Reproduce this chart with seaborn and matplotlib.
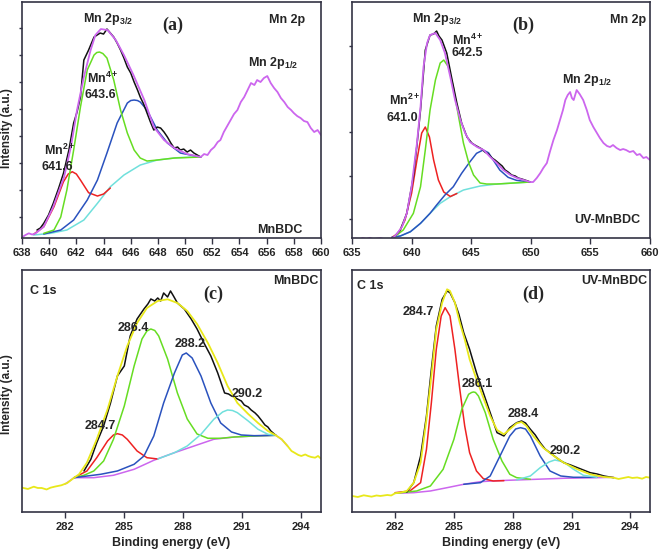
import matplotlib
matplotlib.use("Agg")
import matplotlib.pyplot as plt
import seaborn as sns
from matplotlib.ticker import MultipleLocator

# Panel (a): MnBDC, Mn 2p (binding energy in eV, intensity in a.u.)
a_env_e = [638.0, 638.25, 638.5, 638.75, 639.0, 639.6, 640.3, 641.1, 641.6, 642.05,
           642.55, 643.05, 643.4, 643.8, 644.3, 644.9, 645.5, 646.2, 647.0, 647.7,
           648.45, 649.2, 650.15, 651.15, 651.4, 651.65, 651.9, 652.15, 652.4, 652.6,
           652.85, 653.1, 653.35, 653.6, 653.85, 654.1, 654.35, 654.6, 654.85, 655.1,
           655.3, 655.55, 655.8, 656.05, 656.3, 656.55, 656.8, 657.05, 657.3, 657.55,
           657.8, 658.0, 658.25, 658.5, 658.75, 659.0, 659.25, 659.5, 659.75, 660.0]
a_env_i = [2.7, 5, 6.7, 5.5, 6.7, 13.3, 33.3, 63.3, 93.3, 130,
           163, 190, 205, 211, 210, 200, 185, 165, 140, 113,
           100, 92, 86, 83, 86, 85, 90, 93, 98, 100,
           108, 114, 120, 126, 130, 138, 143, 150, 157, 155,
           160, 158, 162, 164, 157, 152, 148, 142, 138, 133,
           130, 127, 124, 122, 119, 118, 112, 108, 110, 105]
a_raw_e = [639.1, 639.35, 639.6, 639.95, 640.3, 640.7, 641.05, 641.45, 641.8, 642.05,
           642.3, 642.55, 642.9, 643.3, 643.75, 644.0, 644.25, 644.5, 644.75, 645.0,
           645.25, 645.5, 645.75, 646.0, 646.25, 646.5, 646.7, 646.95, 647.2, 647.45,
           647.7, 647.95, 648.2, 648.45, 648.7, 648.95, 649.2, 649.45, 649.65, 649.9,
           650.15, 650.4, 650.65, 650.9, 651.15]
a_raw_i = [10, 12, 16.7, 25, 36.7, 52, 66.7, 90, 117, 128,
           143, 180, 190, 203, 207, 206, 211, 207, 203, 197,
           190, 182, 173, 167, 158, 150, 143, 136, 127, 118,
           110, 113, 112, 108, 103, 97, 92, 93, 90, 91,
           88, 90, 87, 85, 83]
a_g_e = [639.6, 640.35, 640.85, 641.3, 641.8, 642.3, 642.8, 643.3, 643.5, 643.7,
         643.95, 644.25, 644.75, 645.25, 645.75, 646.25, 646.7, 647.2, 647.95, 649.2, 651.15]
a_g_i = [6.7, 10, 23, 50, 90, 133, 170, 185, 187.5, 188,
         186.5, 182, 160, 130, 107, 90, 82, 79, 80, 82, 83]
a_r_e = [638.85, 639.6, 640.35, 641.05, 641.4, 641.7, 642.0, 642.3, 642.9, 643.55, 644.0, 644.5]
a_r_i = [5.7, 13.3, 33.3, 58.3, 66, 68.3, 66, 60, 47.3, 44, 46, 52]
a_b_e = [639.6, 640.85, 641.8, 642.8, 643.55, 644.25, 645.0, 645.75, 646.0, 646.25,
         646.5, 646.7, 647.2, 647.95, 648.7, 649.65, 651.15]
a_b_i = [6, 10, 20, 40, 60, 87, 117, 137, 139.5, 140,
         139.5, 138, 130, 110, 97, 87, 83]
a_c_e = [638.85, 640.1, 641.3, 642.55, 643.55, 644.5, 645.5, 646.7, 647.95, 649.4, 651.15]
a_c_i = [5, 6.7, 10, 20, 36.7, 53.3, 65, 75, 80, 82.3, 83.3]

# Panel (b): UV-MnBDC, Mn 2p
b_env_e = [635.0, 635.3, 635.6, 635.9, 636.2, 636.5, 636.8, 637.1, 637.4, 637.7,
           638.0, 638.35, 638.5, 638.8, 639.2, 639.6, 640.0, 640.45, 640.75, 641.0,
           641.3, 641.55, 642.0, 642.4, 642.8, 643.25, 643.65, 644.1, 644.5, 644.9,
           645.5, 646.05, 646.6, 647.15, 647.7, 648.3, 648.85, 649.4, 649.95, 650.2,
           650.5, 650.8, 651.05, 651.35, 651.6, 651.9, 652.2, 652.45, 652.7, 652.9,
           653.1, 653.3, 653.45, 653.6, 653.85, 654.1, 654.4, 654.7, 654.95, 655.25,
           655.55, 655.8, 656.1, 656.4, 656.65, 656.9, 657.2, 657.5, 657.75, 658.0,
           658.3, 658.6, 658.9, 659.15, 659.45, 659.7, 660.0]
b_env_i = [0.7, 1.5, 0.5, 2.0, 1.0, 2.2, 0.8, 1.5, 2.0, 0.7,
           1.2, 1.0, 2.7, 6.7, 13.3, 26.7, 53.3, 96.7, 133, 173,
           197, 205, 207, 200, 187, 163, 140, 120, 107, 98,
           93, 90, 83, 77, 70, 65, 62, 60, 58, 58,
           62, 67, 72, 77, 88, 100, 110, 120, 130, 140,
           145, 148, 142, 140, 150, 146, 140, 130, 120, 113,
           107, 102, 97, 94, 93, 95, 92, 90, 91, 90,
           88, 89, 85, 86, 82, 83, 80]
b_raw_e = [638.5, 639.05, 639.6, 640.15, 640.45, 640.75, 641.15, 641.55, 641.85, 642.1,
           642.3, 642.55, 642.95, 643.4, 643.8, 644.2, 644.65, 645.05, 645.3, 645.6,
           645.9, 646.15, 646.45, 646.75, 647.0, 647.3, 647.6, 647.85, 648.1, 648.4,
           648.7, 648.95, 649.25, 649.5, 649.75, 649.95]
b_raw_i = [2.7, 10, 26.7, 63.3, 95, 130, 190, 205, 206, 209,
           204, 200, 187, 160, 137, 117, 103, 97, 95, 93,
           91, 88, 86, 82, 80, 77, 74, 70, 68, 65,
           64, 62, 61, 60, 59, 58]
b_g_e = [638.5, 639.3, 640.15, 640.75, 641.15, 641.55, 642.0, 642.4, 642.7, 643.1,
         643.5, 643.95, 644.35, 644.8, 645.2, 645.75, 646.3, 647.15, 648.55, 649.95]
b_g_i = [2.7, 10, 26.7, 53.3, 90, 130, 160, 177, 180, 173,
         153, 123, 97, 77, 65, 57, 56, 56, 57, 58]
b_r_e = [638.35, 638.9, 639.45, 640.0, 640.45, 640.85, 641.15, 641.5, 641.85, 642.25, 642.7, 643.25, 643.8]
b_r_i = [2.7, 6.7, 20, 46.7, 80, 107, 113, 103, 80, 60, 48, 43.5, 46.5]
b_b_e = [638.35, 639.05, 639.9, 640.75, 641.55, 642.1, 642.8, 643.5, 644.2, 644.9,
         645.45, 646.0, 646.45, 646.85, 647.4, 648.1, 648.8, 649.95]
b_b_i = [2.7, 4, 8.3, 16.7, 26.7, 35, 45, 53.3, 66.7, 78.3,
         86.7, 90, 87.3, 80, 70, 62.7, 59.7, 58]
b_c_e = [638.35, 639.05, 639.9, 640.75, 641.55, 642.4, 643.25, 644.35, 645.75, 647.15, 648.55, 649.95]
b_c_i = [2.7, 4, 8.3, 16.7, 26.7, 36.7, 43.3, 50, 54, 56, 57, 58]

# Panel (c): MnBDC, C 1s
c_env_e = [279.8, 280.1, 280.4, 280.6, 280.8, 281.05, 281.25, 281.5, 281.8, 282.1,
           282.45, 282.7, 283.1, 283.6, 284.15, 284.65, 285.15, 285.65, 286.15, 286.7,
           287.2, 287.7, 288.2, 288.7, 289.25, 289.75, 290.25, 290.75, 291.3, 291.8,
           292.3, 292.7, 293.0, 293.3, 293.5, 293.65, 293.85, 294.0, 294.2, 294.35,
           294.5, 294.7, 294.85, 295.0]
c_env_i = [23.3, 22, 24.3, 23, 23, 21.5, 23.3, 24.5, 25.7, 28,
           33.3, 36.7, 48.3, 71.7, 101.7, 135, 165, 188, 203, 210,
           211.7, 208, 200, 187, 168, 148, 125, 108, 97, 88,
           80, 75.7, 71.7, 65, 60, 58.3, 56, 55, 56.5, 55,
           54, 53.3, 55, 52.3]
c_raw_e = [282.95, 283.3, 283.6, 283.95, 284.3, 284.65, 285.0, 285.3, 285.65, 286.0,
           286.2, 286.35, 286.55, 286.7, 286.85, 287.0, 287.2, 287.35, 287.5, 287.7,
           288.05, 288.4, 288.7, 289.05, 289.4, 289.75, 290.1, 290.3, 290.45, 290.6,
           290.75, 290.95, 291.1, 291.3, 291.45, 291.65, 291.8, 292.0, 292.15, 292.3,
           292.45, 292.7]
c_raw_i = [40, 51.7, 68.3, 85, 108, 135, 145, 175, 192, 202,
           207, 212, 210, 213, 210, 218, 214, 220, 215, 208,
           202, 192, 182, 168, 155, 138, 118, 117, 115, 114,
           112, 110, 106, 104, 101, 98, 95, 90, 86, 84,
           80, 75.7]
c_g_e = [282.45, 282.95, 283.45, 283.95, 284.45, 285.0, 285.5, 285.9, 286.15, 286.35,
         286.55, 286.75, 287.2, 287.7, 288.2, 288.7, 289.25, 289.9, 290.6, 291.6, 292.7]
c_g_i = [33.3, 35.7, 40, 50, 71.7, 105, 145, 172, 180, 182,
         180.5, 175, 152, 118, 92, 77, 72.7, 72.7, 74, 75, 75.7]
c_b_e = [282.45, 283.8, 284.65, 285.5, 286.0, 286.5, 287.0, 287.55, 287.95, 288.15,
         288.45, 288.9, 289.4, 289.9, 290.45, 290.95, 291.6, 292.7]
c_b_i = [33.3, 36.7, 40, 46.7, 55, 75, 108, 138, 156, 158,
         153, 135, 108, 88, 79, 76, 75.3, 75.7]
c_r_e = [282.45, 283.1, 283.6, 284.15, 284.45, 284.65, 284.9, 285.15, 285.65, 286.15, 286.7]
c_r_i = [33.3, 40, 53.3, 70, 76, 77.3, 76, 71.7, 60, 53.3, 52]
c_c_e = [286.7, 287.55, 288.2, 288.9, 289.55, 290.0, 290.25, 290.5, 290.75, 291.3, 291.8, 292.3, 292.7]
c_c_i = [52, 58.3, 65, 76.7, 91.7, 99, 101, 100.5, 98.3, 90, 81.7, 76.7, 75.7]
c_base_e = [282.0, 282.45, 283.45, 284.45, 285.5, 286.5, 287.55, 288.55, 289.55, 290.6, 291.6, 292.7, 293.0, 293.3]
c_base_i = [27, 33.3, 33.3, 35.7, 41.7, 50.7, 58.3, 65, 71.7, 74, 75, 75.7, 71.7, 65]

# Panel (d): UV-MnBDC, C 1s
d_env_e = [279.8, 280.1, 280.4, 280.6, 280.8, 281.05, 281.25, 281.6, 281.8, 282.0,
           282.3, 282.6, 282.95, 283.3, 283.6, 283.85, 284.1, 284.4, 284.65, 284.8,
           285.05, 285.3, 285.55, 285.8, 286.15, 286.5, 286.85, 287.2, 287.55, 287.85,
           288.2, 288.45, 288.7, 289.05, 289.55, 290.1, 290.6, 291.3, 291.95, 292.65,
           293.15, 293.4, 293.65, 293.9, 294.1, 294.35, 294.6, 294.8, 295.0]
d_env_i = [15, 14, 15.7, 15, 14.3, 15.5, 15, 16, 15.5, 17.7,
           18.5, 20, 28.3, 48.3, 91.7, 135, 181.7, 208.3, 221.7, 220,
           208.3, 188.3, 171.7, 151.7, 131.7, 113.3, 95, 81, 76.7, 81.7,
           87.7, 89, 85, 75, 63.3, 55, 48.3, 41.7, 36.7, 34,
           33.3, 32, 33, 34, 33, 33.5, 32.3, 34, 33.3]
d_raw_e = [282.6, 282.95, 283.3, 283.6, 283.85, 284.1, 284.4, 284.65, 284.8, 285.05,
           285.25, 285.5, 285.8, 286.15, 286.5, 286.85, 287.2, 287.55, 287.85, 288.2,
           288.45, 288.65, 288.9, 289.15, 289.4, 289.65, 289.9, 290.25, 290.6, 290.95,
           291.3, 291.6, 291.95, 292.3, 292.65, 293.15]
d_raw_i = [19, 28.3, 55, 95, 141.7, 185, 211.7, 220, 218.3, 208.3,
           197, 178.3, 161.7, 138.3, 118.3, 98.3, 78.3, 75, 83.3, 88.3,
           90, 88, 81.7, 76, 68.3, 62, 58.3, 53, 48.3, 46,
           43.3, 41, 38.3, 37, 35, 33.3]
d_r_e = [282.0, 282.75, 283.3, 283.6, 283.85, 284.1, 284.35, 284.55, 284.8, 285.05,
         285.3, 285.55, 285.8, 286.15, 286.5, 287.0, 287.55]
d_r_i = [18.3, 20, 28.3, 61.7, 108.3, 161.7, 195, 203.3, 195, 161.7,
         121.7, 85, 58.3, 40, 32.3, 30, 30.3]
d_g_e = [282.0, 283.1, 283.8, 284.45, 285.0, 285.4, 285.75, 285.9, 286.0, 286.1,
         286.25, 286.6, 287.0, 287.45, 287.85, 288.2, 288.9]
d_g_i = [17.7, 20, 25, 41.7, 71.7, 101.7, 116.7, 118.5, 119, 118.5,
         115, 98.3, 71.7, 50, 36.7, 33.3, 31.7]
d_b_e = [285.5, 286.35, 286.85, 287.35, 287.85, 288.15, 288.4, 288.65, 288.9, 289.4,
         289.9, 290.45, 291.1, 292.3]
d_b_i = [26.7, 28.3, 35, 55, 75, 82, 83.3, 82, 75, 55,
         40, 35, 33.7, 33.7]
d_c_e = [288.2, 288.9, 289.4, 289.85, 290.15, 290.6, 291.1, 291.6, 292.3]
d_c_i = [31, 35, 43.3, 49, 51, 49, 41.7, 35.7, 33.7]
d_base_e = [282.0, 282.95, 283.8, 284.65, 285.5, 286.35, 287.2, 288.2, 289.2, 290.6, 292.3, 293.15]
d_base_i = [17.7, 18.3, 20, 23.3, 26.7, 29.3, 30.3, 31, 31.7, 32.7, 33.3, 33.7]

# colours picked from the figure
PURPLE = "#cc66ee"
GREEN = "#66dd22"
RED = "#ee2222"
BLUE = "#2a52be"
CYAN = "#70e0dc"
YELLOW = "#e8e81a"
BLACK = "#111111"

sns.set_style("ticks")
plt.rcParams["font.family"] = ["Liberation Sans", "DejaVu Sans"]
plt.rcParams["font.weight"] = "bold"
plt.rcParams["mathtext.fontset"] = "custom"
plt.rcParams["mathtext.rm"] = "Liberation Sans:bold"
plt.rcParams["mathtext.it"] = "Liberation Sans:bold"
plt.rcParams["mathtext.bf"] = "Liberation Sans:bold"
plt.rcParams["mathtext.default"] = "rm"

fig = plt.figure(figsize=(6.61, 5.52), dpi=100)
ax_a = fig.add_axes([0.0333, 0.5688, 0.4523, 0.4275])
ax_b = fig.add_axes([0.5325, 0.5688, 0.4508, 0.4275])
ax_c = fig.add_axes([0.0333, 0.0725, 0.4523, 0.4384])
ax_d = fig.add_axes([0.5325, 0.0725, 0.4508, 0.4384])


def draw(ax, e, i, color, lw=1.1):
    sns.lineplot(x=e, y=i, ax=ax, color=color, linewidth=lw, sort=False, estimator=None)


# (a)  raw data first, fitted envelope over it
draw(ax_a, a_c_e, a_c_i, CYAN)
draw(ax_a, a_r_e, a_r_i, RED)
draw(ax_a, a_b_e, a_b_i, BLUE)
draw(ax_a, a_g_e, a_g_i, GREEN)
draw(ax_a, a_raw_e, a_raw_i, BLACK)
draw(ax_a, a_env_e, a_env_i, PURPLE, 1.3)

# (b)
draw(ax_b, b_c_e, b_c_i, CYAN)
draw(ax_b, b_r_e, b_r_i, RED)
draw(ax_b, b_b_e, b_b_i, BLUE)
draw(ax_b, b_g_e, b_g_i, GREEN)
draw(ax_b, b_raw_e, b_raw_i, BLACK)
draw(ax_b, b_env_e, b_env_i, PURPLE, 1.3)

# (c)
draw(ax_c, c_base_e, c_base_i, PURPLE)
draw(ax_c, c_r_e, c_r_i, RED)
draw(ax_c, c_g_e, c_g_i, GREEN)
draw(ax_c, c_b_e, c_b_i, BLUE)
draw(ax_c, c_c_e, c_c_i, CYAN)
draw(ax_c, c_raw_e, c_raw_i, BLACK)
draw(ax_c, c_env_e, c_env_i, YELLOW, 1.3)

# (d)
draw(ax_d, d_base_e, d_base_i, PURPLE)
draw(ax_d, d_r_e, d_r_i, RED)
draw(ax_d, d_g_e, d_g_i, GREEN)
draw(ax_d, d_b_e, d_b_i, BLUE)
draw(ax_d, d_c_e, d_c_i, CYAN)
draw(ax_d, d_raw_e, d_raw_i, BLACK)
draw(ax_d, d_env_e, d_env_i, YELLOW, 1.3)

ax_a.set_xlim(638, 660)
ax_a.set_ylim(2, 238)
ax_a.xaxis.set_major_locator(MultipleLocator(2))
ax_a.set_yticks([23 + 27 * k for k in range(8)])

ax_b.set_xlim(635, 660)
ax_b.set_ylim(2, 238)
ax_b.xaxis.set_major_locator(MultipleLocator(5))
ax_b.set_yticks([21 + 43.3 * k for k in range(5)])

for ax in (ax_c, ax_d):
    ax.set_xlim(279.8, 295.0)
    ax.set_ylim(-1, 241)
    ax.set_xticks([282, 285, 288, 291, 294])
    ax.set_yticks([])

for ax in (ax_a, ax_b, ax_c, ax_d):
    ax.set_xlabel("")
    ax.set_ylabel("")
    ax.set_yticklabels([])
    ax.tick_params(axis="x", direction="out", length=4, width=1, labelsize=8, pad=3, color="#333344")
    ax.tick_params(axis="y", direction="out", length=2.5, width=1, color="#333344")
    for sp in ax.spines.values():
        sp.set_visible(True)
        sp.set_color("#333344")
        sp.set_linewidth(1.2)
    for lab in ax.get_xticklabels():
        lab.set_fontweight("bold")

ax_c.set_xlabel("Binding energy (eV)", fontsize=9, fontweight="bold", labelpad=4)
ax_d.set_xlabel("Binding energy (eV)", fontsize=9, fontweight="bold", labelpad=4)
fig.text(0.011, 1 - 128 / 552, "Intensity (a.u.)", rotation=90, ha="center", va="center",
         fontsize=8.5, fontweight="bold")
fig.text(0.011, 1 - 394 / 552, "Intensity (a.u.)", rotation=90, ha="center", va="center",
         fontsize=8.5, fontweight="bold")

serif = ["Liberation Serif", "DejaVu Serif"]
lbl = dict(ha="center", va="center", fontweight="bold", fontsize=9)

# (a) labels
ax_a.text(0.288, 0.928, r"Mn 2p$_{3/2}$", transform=ax_a.transAxes, **lbl)
ax_a.text(0.505, 0.900, "(a)", transform=ax_a.transAxes, ha="center", va="center",
          fontsize=13, fontweight="bold", family=serif)
ax_a.text(0.886, 0.924, "Mn 2p", transform=ax_a.transAxes, **lbl)
ax_a.text(0.839, 0.742, r"Mn 2p$_{1/2}$", transform=ax_a.transAxes, **lbl)
ax_a.text(0.271, 0.678, r"Mn$^{4+}$", transform=ax_a.transAxes, **lbl)
ax_a.text(0.261, 0.606, "643.6", transform=ax_a.transAxes, **lbl)
ax_a.text(0.127, 0.373, r"Mn$^{2+}$", transform=ax_a.transAxes, **lbl)
ax_a.text(0.117, 0.301, "641.6", transform=ax_a.transAxes, **lbl)
ax_a.text(0.863, 0.034, "MnBDC", transform=ax_a.transAxes, **lbl)

# (b) labels
ax_b.text(0.285, 0.928, r"Mn 2p$_{3/2}$", transform=ax_b.transAxes, **lbl)
ax_b.text(0.574, 0.900, "(b)", transform=ax_b.transAxes, ha="center", va="center",
          fontsize=13, fontweight="bold", family=serif)
ax_b.text(0.926, 0.924, "Mn 2p", transform=ax_b.transAxes, **lbl)
ax_b.text(0.389, 0.839, r"Mn$^{4+}$", transform=ax_b.transAxes, **lbl)
ax_b.text(0.386, 0.784, "642.5", transform=ax_b.transAxes, **lbl)
ax_b.text(0.178, 0.585, r"Mn$^{2+}$", transform=ax_b.transAxes, **lbl)
ax_b.text(0.168, 0.508, "641.0", transform=ax_b.transAxes, **lbl)
ax_b.text(0.789, 0.669, r"Mn 2p$_{1/2}$", transform=ax_b.transAxes, **lbl)
ax_b.text(0.856, 0.076, "UV-MnBDC", transform=ax_b.transAxes, **lbl)

# (c) labels
ax_c.text(0.070, 0.913, "C 1s", transform=ax_c.transAxes, **lbl)
ax_c.text(0.639, 0.901, "(c)", transform=ax_c.transAxes, ha="center", va="center",
          fontsize=13, fontweight="bold", family=serif)
ax_c.text(0.915, 0.955, "MnBDC", transform=ax_c.transAxes, **lbl)
ax_c.text(0.371, 0.760, "286.4", transform=ax_c.transAxes, **lbl)
ax_c.text(0.562, 0.694, "288.2", transform=ax_c.transAxes, **lbl)
ax_c.text(0.753, 0.488, "290.2", transform=ax_c.transAxes, **lbl)
ax_c.text(0.261, 0.355, "284.7", transform=ax_c.transAxes, **lbl)

# (d) labels
ax_d.text(0.060, 0.934, "C 1s", transform=ax_d.transAxes, **lbl)
ax_d.text(0.607, 0.901, "(d)", transform=ax_d.transAxes, ha="center", va="center",
          fontsize=13, fontweight="bold", family=serif)
ax_d.text(0.880, 0.955, "UV-MnBDC", transform=ax_d.transAxes, **lbl)
ax_d.text(0.221, 0.826, "284.7", transform=ax_d.transAxes, **lbl)
ax_d.text(0.419, 0.529, "286.1", transform=ax_d.transAxes, **lbl)
ax_d.text(0.574, 0.405, "288.4", transform=ax_d.transAxes, **lbl)
ax_d.text(0.715, 0.252, "290.2", transform=ax_d.transAxes, **lbl)

fig.savefig("out.png", dpi=100)
